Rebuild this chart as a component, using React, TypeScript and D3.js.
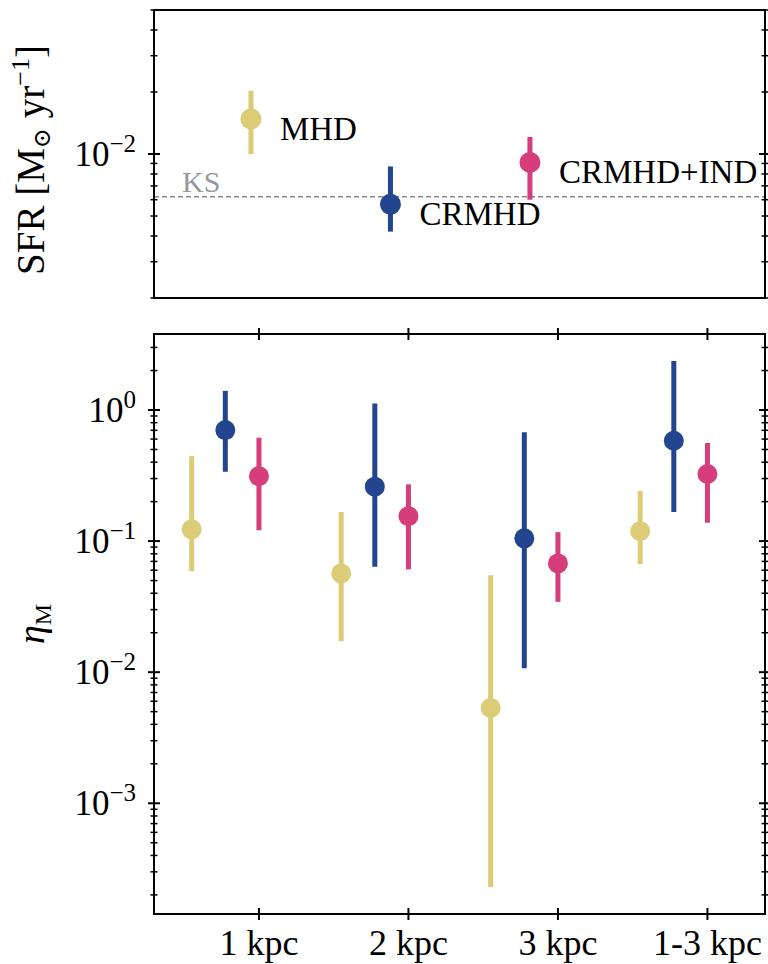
import React from "react";
import * as d3 from "d3";

// Simulation runs and outflow radii
const runs = ["MHD", "CRMHD", "CRMHD+IND"];
const runColors = ["#DDCC77", "#234590", "#D53D7B"];
const categories = ["1 kpc", "2 kpc", "3 kpc", "1-3 kpc"];

// Star formation rate per run [Msun/yr] with lower/upper bounds
const sfrValue = [1.48e-2, 5.7e-3, 9.1e-3];
const sfrLow = [1.0e-2, 4.2e-3, 6.0e-3];
const sfrHigh = [2.03e-2, 8.7e-3, 1.21e-2];
const ksSfr = 6.2e-3;

// Mass loading factor per radius, for each run
const etaMHD = [0.123, 0.0567, 0.00534, 0.119];
const etaMHDLow = [0.059, 0.0172, 0.00023, 0.0667];
const etaMHDHigh = [0.445, 0.167, 0.055, 0.241];
const etaCRMHD = [0.703, 0.26, 0.105, 0.583];
const etaCRMHDLow = [0.338, 0.0637, 0.0107, 0.167];
const etaCRMHDHigh = [1.4, 1.12, 0.676, 2.37];
const etaIND = [0.313, 0.155, 0.0676, 0.325];
const etaINDLow = [0.121, 0.0608, 0.0344, 0.138];
const etaINDHigh = [0.615, 0.271, 0.117, 0.56];

const etaSeries = [
  { mid: etaMHD, lo: etaMHDLow, hi: etaMHDHigh },
  { mid: etaCRMHD, lo: etaCRMHDLow, hi: etaCRMHDHigh },
  { mid: etaIND, lo: etaINDLow, hi: etaINDHigh },
];
const runOffsets = [-0.45, -0.225, 0];

const W = 768;
const H = 964;
const FONT = "'Liberation Serif', 'DejaVu Serif', serif";
const left = 154;
const right = 765;
const top1 = 10;
const bot1 = 298;
const top2 = 334;
const bot2 = 914;

const xTop = d3.scaleLinear().domain([-0.695, 3.685]).range([left, right]);
const yTop = d3.scaleLog().domain([2e-3, 5e-2]).range([bot1, top1]);
const xBot = d3.scaleLinear().domain([-0.702, 3.385]).range([left, right]);
const yBot = d3.scaleLog().domain([1.43e-4, 3.8]).range([bot2, top2]);

function logTicks(scale: d3.ScaleLogarithmic<number, number>) {
  const [a, b] = scale.domain();
  const major: number[] = [];
  const minor: number[] = [];
  for (let e = Math.floor(Math.log10(a)); e <= Math.ceil(Math.log10(b)); e++) {
    for (let k = 1; k <= 9; k++) {
      const v = k * Math.pow(10, e);
      if (v < a * 0.999 || v > b * 1.001) continue;
      if (k === 1) major.push(e);
      else minor.push(v);
    }
  }
  return { major, minor };
}

function YAxis({ scale }: { scale: d3.ScaleLogarithmic<number, number> }) {
  const { major, minor } = logTicks(scale);
  return (
    <g>
      {minor.map((v, i) => (
        <g key={"m" + i}>
          <line x1={left - 3.5} x2={left + 3.5} y1={scale(v)} y2={scale(v)} stroke="#000" strokeWidth={1.5} />
          <line x1={right - 3.5} x2={right + 3.5} y1={scale(v)} y2={scale(v)} stroke="#000" strokeWidth={1.5} />
        </g>
      ))}
      {major.map((e) => {
        const y = scale(Math.pow(10, e));
        return (
          <g key={"M" + e}>
            <line x1={left - 6} x2={left + 6} y1={y} y2={y} stroke="#000" strokeWidth={2} />
            <line x1={right - 6} x2={right + 6} y1={y} y2={y} stroke="#000" strokeWidth={2} />
            <text x={136} y={y + 12} textAnchor="end" fontFamily={FONT} fontSize={35}>
              10
              <tspan fontSize={25} dy={-14}>
                {e < 0 ? "\u2212" + Math.abs(e) : String(e)}
              </tspan>
            </text>
          </g>
        );
      })}
    </g>
  );
}

export default function App() {
  return (
    <svg
      width={W}
      height={H}
      viewBox={`0 0 ${W} ${H}`}
      style={{ position: "absolute", left: 0, top: 0, background: "#fff" }}
    >
      <rect x={0} y={0} width={W} height={H} fill="#fff" />

      {/* Upper panel: star formation rate */}
      <line
        x1={left}
        x2={right}
        y1={yTop(ksSfr)}
        y2={yTop(ksSfr)}
        stroke="#8a8a8a"
        strokeWidth={1.5}
        strokeDasharray="5,3"
      />
      <text x={182} y={192} fontFamily={FONT} fontSize={30} fill="#999">
        KS
      </text>
      {runs.map((r, i) => {
        const x = xTop(i);
        return (
          <g key={r}>
            <line x1={x} x2={x} y1={yTop(sfrLow[i])} y2={yTop(sfrHigh[i])} stroke={runColors[i]} strokeWidth={5} />
            <circle cx={x} cy={yTop(sfrValue[i])} r={10.5} fill={runColors[i]} />
            <text x={x + 29} y={yTop(sfrValue[i]) + 21} fontFamily={FONT} fontSize={33}>
              {r}
            </text>
          </g>
        );
      })}
      <YAxis scale={yTop} />
      <rect x={left} y={top1} width={right - left} height={bot1 - top1} fill="none" stroke="#000" strokeWidth={2} />
      <text
        transform={`translate(44, ${(top1 + bot1) / 2 + 6}) rotate(-90)`}
        textAnchor="middle"
        fontFamily={FONT}
        fontSize={39}
      >
        SFR [M
        <tspan fontFamily="'DejaVu Serif', serif" fontSize={24} dy={6}>
          {"\u2299"}
        </tspan>
        <tspan dy={-6}> yr</tspan>
        <tspan fontSize={26} dy={-15}>
          {"\u22121"}
        </tspan>
        <tspan dy={15}>]</tspan>
      </text>

      {/* Lower panel: mass loading factor */}
      {etaSeries.map((s, j) => (
        <g key={runs[j]}>
          {categories.map((c, i) => {
            const x = xBot(i + runOffsets[j]);
            return (
              <g key={c}>
                <line x1={x} x2={x} y1={yBot(s.lo[i])} y2={yBot(s.hi[i])} stroke={runColors[j]} strokeWidth={5} />
                <circle cx={x} cy={yBot(s.mid[i])} r={10} fill={runColors[j]} />
              </g>
            );
          })}
        </g>
      ))}
      <YAxis scale={yBot} />
      {categories.map((c, i) => {
        const x = xBot(i);
        return (
          <g key={c}>
            <line x1={x} x2={x} y1={bot2 - 6} y2={bot2 + 6} stroke="#000" strokeWidth={2} />
            <line x1={x} x2={x} y1={top2 - 6} y2={top2 + 6} stroke="#000" strokeWidth={2} />
            <text x={x} y={955} textAnchor="middle" fontFamily={FONT} fontSize={36}>
              {c}
            </text>
          </g>
        );
      })}
      <rect x={left} y={top2} width={right - left} height={bot2 - top2} fill="none" stroke="#000" strokeWidth={2} />
      <text
        transform={`translate(44, ${(top2 + bot2) / 2}) rotate(-90)`}
        textAnchor="middle"
        fontFamily={FONT}
        fontSize={38}
      >
        <tspan fontStyle="italic">{"\u03b7"}</tspan>
        <tspan fontSize={24} dy={7}>
          M
        </tspan>
      </text>
    </svg>
  );
}
